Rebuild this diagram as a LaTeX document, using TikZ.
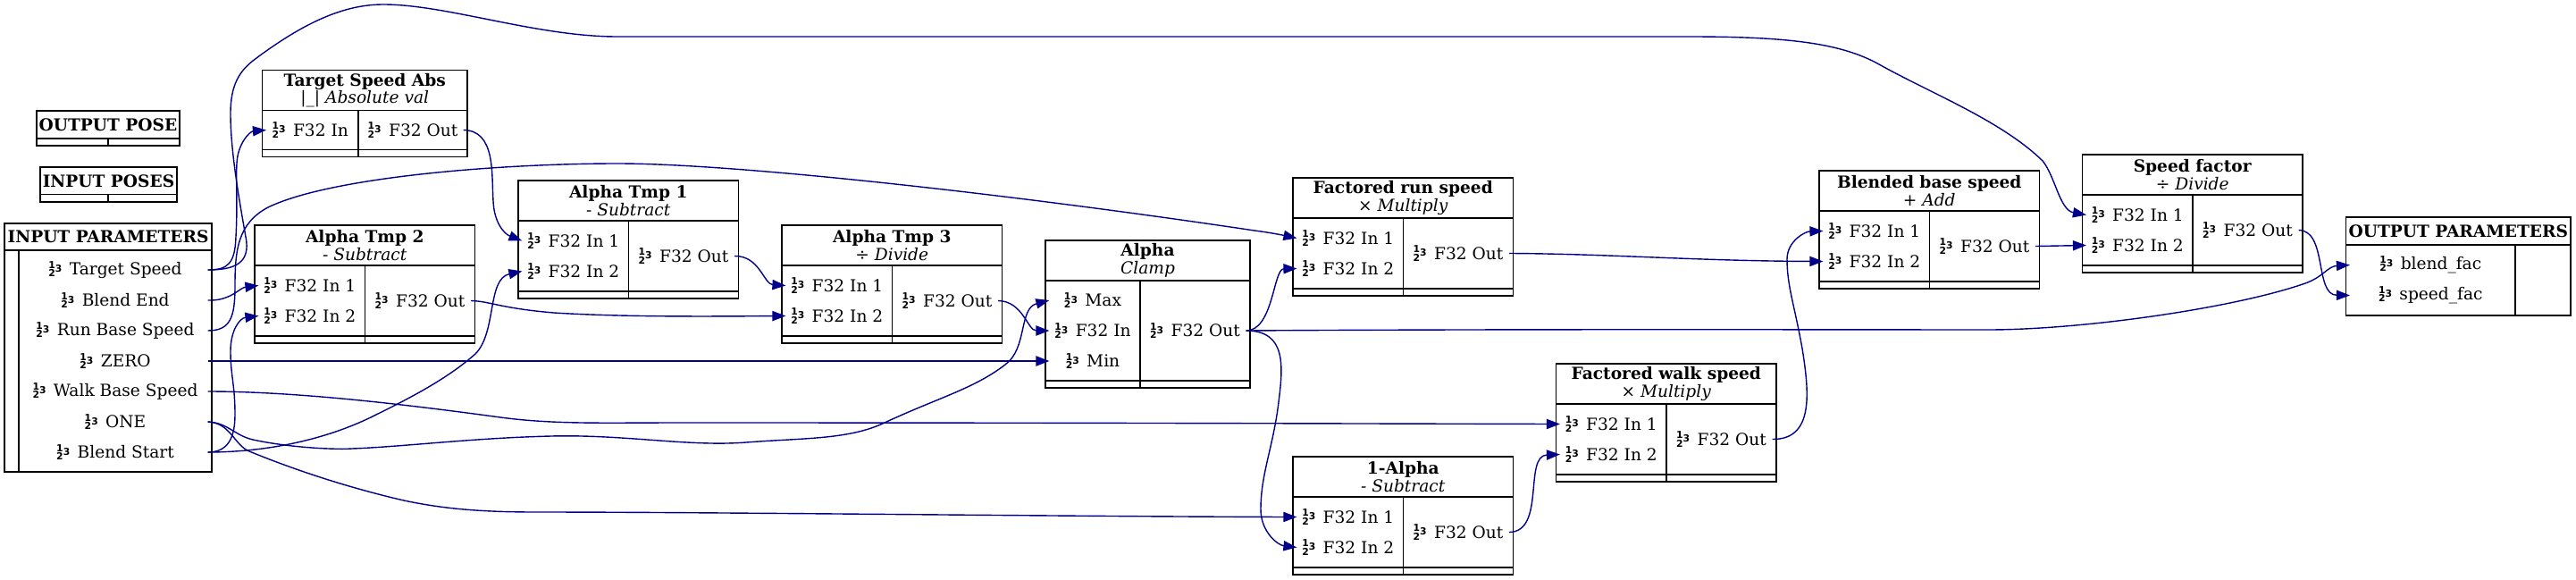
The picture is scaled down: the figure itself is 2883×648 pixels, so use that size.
\documentclass[tikz,border=0pt]{standalone}
\usepackage{fontspec}
\setmainfont{DejaVu Serif}
\newfontfamily\iconfont{DejaVu Sans Bold}
\usetikzlibrary{arrows.meta, positioning}
\definecolor{wireblue}{RGB}{0, 0, 139}

\newcommand{\numico}{{\iconfont\fontsize{5.4}{5.4}\selectfont\rlap{\raisebox{3.7pt}{1}}\raisebox{-1pt}{2}\raisebox{1.7pt}{3}}\hspace{4.2pt}}

% name, x, y, left width, right width, body height, title, op
\newcommand{\opbox}[8]{
    \node [headbox, anchor=north west, minimum width=#4pt+#5pt, minimum height=22.5pt] (#1) at (#2,#3) {\textbf{#7}\\\textit{#8}};
    \node [cellbox, minimum width=#4pt, minimum height=#6pt, below right=0pt of #1.south west] (#1-l) {};
    \node [cellbox, minimum width=#5pt, minimum height=#6pt, below left=0pt of #1.south east] (#1-r) {};
    \node [cellbox, minimum width=#4pt, minimum height=4pt, below=0pt of #1-l] (#1-fl) {};
    \node [cellbox, minimum width=#5pt, minimum height=4pt, below=0pt of #1-r] (#1-fr) {};
}
% name, x, y, title, op
\newcommand{\binop}[5]{
    \opbox{#1}{#2}{#3}{61.75}{61.5}{39.5}{#4}{#5}
    \node [portcell, minimum width=61.75pt, above=0pt of #1-l.center] (#1-a) {\numico F32 In 1};
    \node [portcell, minimum width=61.75pt, below=0pt of #1-l.center] (#1-b) {\numico F32 In 2};
    \node [portcell, minimum width=61.5pt] (#1-out) at (#1-r) {\numico F32 Out};
}

\begin{document}
\begin{tikzpicture}[
    x=0.5pt, y=-0.5pt,
    font=\fontsize{9.3}{9.8}\selectfont,
    headbox/.style={
        rectangle,
        draw=black,
        line width=0.7pt,
        fill=white,
        align=center,
        inner sep=0pt,
        outer sep=0pt
    },
    cellbox/.style={
        rectangle,
        draw=black,
        line width=0.7pt,
        fill=white,
        inner sep=0pt,
        outer sep=0pt
    },
    portcell/.style={
        rectangle,
        inner sep=0pt,
        outer ysep=0pt,
        outer xsep=-2.2pt,
        minimum height=17pt
    },
    wire/.style={draw=wireblue, line width=0.7pt, -{Triangle[length=7.5pt, width=5.6pt]}}
]
    \useasboundingbox (0,0) rectangle (2883,648);

    % Pose boxes
    \node [headbox, anchor=north west, minimum width=80pt, minimum height=15.5pt] (outpose) at (41,124) {\textbf{OUTPUT POSE}};
    \node [cellbox, minimum width=40pt, minimum height=4pt, below right=0pt of outpose.south west] (outpose-l) {};
    \node [cellbox, minimum width=40pt, minimum height=4pt, below left=0pt of outpose.south east] (outpose-r) {};

    \node [headbox, anchor=north west, minimum width=76.5pt, minimum height=15.25pt] (inpose) at (45,187) {\textbf{INPUT POSES}};
    \node [cellbox, minimum width=38pt, minimum height=4.25pt, below right=0pt of inpose.south west] (inpose-l) {};
    \node [cellbox, minimum width=38.5pt, minimum height=4.25pt, below left=0pt of inpose.south east] (inpose-r) {};

    % Input parameters
    \node [headbox, anchor=north west, minimum width=116pt, minimum height=15pt] (inparams) at (5,250) {\textbf{INPUT PARAMETERS}};
    \node [cellbox, minimum width=8pt, minimum height=124pt, below right=0pt of inparams.south west] (inparams-l) {};
    \node [cellbox, minimum width=108pt, minimum height=124pt, below left=0pt of inparams.south east] (inparams-r) {};
    \node [portcell, minimum width=108pt, below=2.5pt of inparams-r.north] (tgtspeed) {\numico Target Speed};
    \node [portcell, minimum width=108pt, below=0pt of tgtspeed] (blendend) {\numico Blend End};
    \node [portcell, minimum width=108pt, below=0pt of blendend] (runbase) {\numico Run Base Speed};
    \node [portcell, minimum width=108pt, below=0pt of runbase] (zero) {\numico ZERO};
    \node [portcell, minimum width=108pt, below=0pt of zero] (walkbase) {\numico Walk Base Speed};
    \node [portcell, minimum width=108pt, below=0pt of walkbase] (one) {\numico ONE};
    \node [portcell, minimum width=108pt, below=0pt of one] (blendstart) {\numico Blend Start};

    % Math nodes
    \opbox{tgtabs}{293.5}{78.5}{53.75}{61}{22}{Target Speed Abs}{|\_| Absolute val}
    \node [portcell, minimum width=53.75pt] (tgtabs-in) at (tgtabs-l) {\numico F32 In};
    \node [portcell, minimum width=61pt] (tgtabs-out) at (tgtabs-r) {\numico F32 Out};

    \binop{tmptwo}{285}{252}{Alpha Tmp 2}{- Subtract}
    \binop{tmpone}{580}{202}{Alpha Tmp 1}{- Subtract}
    \binop{tmpthree}{875}{252}{Alpha Tmp 3}{÷ Divide}

    \opbox{alpha}{1170}{269}{53}{61.5}{56}{Alpha}{Clamp}
    \node [portcell, minimum width=53pt] (alpha-in) at (alpha-l) {\numico F32 In};
    \node [portcell, minimum width=53pt, above=0pt of alpha-in] (alpha-max) {\numico Max};
    \node [portcell, minimum width=53pt, below=0pt of alpha-in] (alpha-min) {\numico Min};
    \node [portcell, minimum width=61.5pt] (alpha-out) at (alpha-r) {\numico F32 Out};

    \binop{runfac}{1447}{199}{Factored run speed}{× Multiply}
    \binop{invalpha}{1447}{511}{1-Alpha}{- Subtract}
    \binop{walkfac}{1741.5}{407}{Factored walk speed}{× Multiply}
    \binop{blended}{2036}{191}{Blended base speed}{+ Add}
    \binop{speedfac}{2330.5}{173}{Speed factor}{÷ Divide}

    % Output parameters
    \node [headbox, anchor=north west, minimum width=125.75pt, minimum height=15.5pt] (outparams) at (2625.5,243) {\textbf{OUTPUT PARAMETERS}};
    \node [cellbox, minimum width=94.75pt, minimum height=39.5pt, below right=0pt of outparams.south west] (outparams-l) {};
    \node [cellbox, minimum width=31pt, minimum height=39.5pt, below left=0pt of outparams.south east] (outparams-r) {};
    \node [portcell, minimum width=94.75pt, above=0pt of outparams-l.center] (blendfac) {\numico blend\_fac};
    \node [portcell, minimum width=94.75pt, below=0pt of outparams-l.center] (speedfac-p) {\numico speed\_fac};

    % Connections
    \path [wire] (tgtspeed.east) .. controls (262,302) and (281,295) .. (275,265) .. controls (268,225) and (258,170) .. (258,127) .. controls (258,95) and (268,80) .. (283,68) .. controls (340,25) and (385,5) .. (429,5) .. controls (500,5) and (600,41) .. (691,41) .. controls (1000,41) and (1600,41) .. (1890,41) .. controls (2000,41) and (2060,48) .. (2103,72) .. controls (2160,104) and (2240,135) .. (2286,180) .. controls (2300,197) and (2305,235) .. (speedfac-a.west);
    \path [wire] (tgtspeed.east) .. controls (255,302) and (263,295) .. (264,265) .. controls (266,230) and (264,200) .. (265,183) .. controls (266,160) and (280,147) .. (tgtabs-in.west);
    \path [wire] (blendend.east) .. controls (258,337) and (268,322) .. (tmptwo-a.west);
    \path [wire] (runbase.east) .. controls (258,370) and (263,355) .. (263,320) .. controls (263,280) and (266,250) .. (300,232) .. controls (370,198) and (560,183) .. (691,183) .. controls (830,183) and (1150,220) .. (1404,258) .. controls (1420,260) and (1435,263) .. (runfac-a.west);
    \path [wire] (zero.east) -- (alpha-min.west);
    \path [wire] (walkbase.east) .. controls (330,438) and (450,452) .. (560,467) .. controls (620,475) and (675,473) .. (760,473) .. controls (1200,473) and (1500,474) .. (walkfac-a.west);
    \path [wire] (one.east) .. controls (255,473) and (262,487) .. (283,492) .. controls (330,502) and (380,503) .. (394,502) .. controls (450,500) and (530,490) .. (617,488) .. controls (700,486) and (770,500) .. (835,495) .. controls (900,490) and (950,492) .. (990,473) .. controls (1050,445) and (1090,435) .. (1125,408) .. controls (1150,390) and (1140,345) .. (alpha-max.west);
    \path [wire] (one.east) .. controls (258,473) and (262,498) .. (279,505) .. controls (340,530) and (400,548) .. (452,560) .. controls (490,568) and (530,573) .. (600,573) .. controls (800,573) and (1200,578) .. (invalpha-a.west);
    \path [wire] (blendstart.east) .. controls (255,506) and (263,490) .. (263,464) .. controls (263,430) and (258,420) .. (258,393) .. controls (258,370) and (268,356) .. (tmptwo-b.west);
    \path [wire] (blendstart.east) .. controls (290,506) and (360,495) .. (421,464) .. controls (470,440) and (505,420) .. (532,396) .. controls (556,372) and (545,312) .. (tmpone-b.west);

    \path [wire] (tgtabs-out.east) .. controls (555,146) and (550,195) .. (552,225) .. controls (553,250) and (565,262) .. (tmpone-a.west);
    \path [wire] (tmptwo-out.east) .. controls (548,337) and (560,345) .. (620,350) .. controls (700,355) and (800,354) .. (tmpthree-b.west);
    \path [wire] (tmpone-out.east) .. controls (850,286) and (855,318) .. (tmpthree-a.west);
    \path [wire] (tmpthree-out.east) .. controls (1145,337) and (1150,370) .. (alpha-in.west);

    \path [wire] (alpha-out.east) .. controls (1425,370) and (1425,301) .. (runfac-b.west);
    \path [wire] (alpha-out.east) .. controls (1440,370) and (1436,410) .. (1431,450) .. controls (1425,500) and (1411,530) .. (1411,570) .. controls (1411,595) and (1430,610) .. (invalpha-b.west);
    \path [wire] (alpha-out.east) .. controls (1700,368) and (2100,369) .. (2225,369) .. controls (2330,369) and (2500,345) .. (2580,317) .. controls (2600,310) and (2605,298) .. (blendfac.west);

    \path [wire] (runfac-out.east) .. controls (1800,284) and (1900,292) .. (blended-b.west);
    \path [wire] (invalpha-out.east) .. controls (1730,595) and (1705,510) .. (walkfac-b.west);
    \path [wire] (walkfac-out.east) .. controls (2030,492) and (2025,440) .. (2017,390) .. controls (2008,340) and (2000,320) .. (2000,290) .. controls (2000,270) and (2020,259) .. (blended-a.west);
    \path [wire] (blended-out.east) -- (speedfac-b.west);
    \path [wire] (speedfac-out.east) .. controls (2605,258) and (2590,330) .. (speedfac-p.west);

\end{tikzpicture}
\end{document}
